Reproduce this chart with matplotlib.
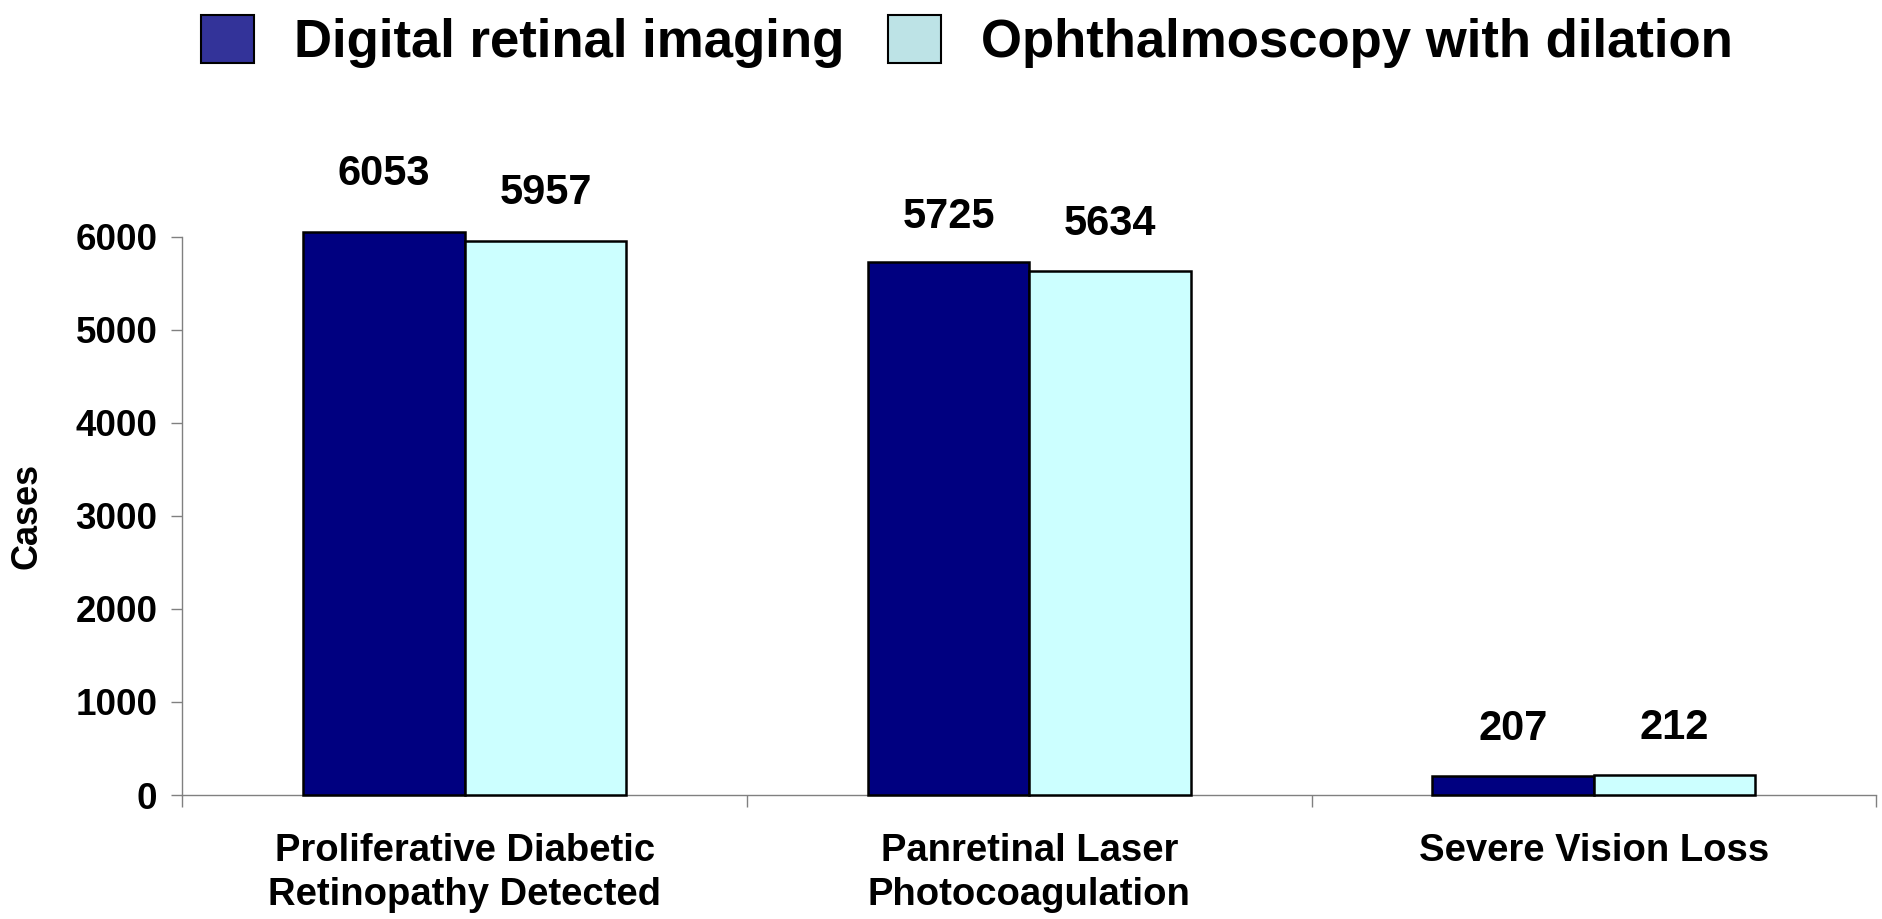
import matplotlib
matplotlib.use("Agg")
from matplotlib import pyplot as plt
from matplotlib.patches import Patch
import numpy as np

plt.rcParams['font.family'] = ['Liberation Sans', 'DejaVu Sans']
plt.rcParams['font.weight'] = 'bold'

# data
categories = ["Proliferative Diabetic\nRetinopathy Detected",
              "Panretinal Laser\nPhotocoagulation",
              "Severe Vision Loss"]
series_names = ["Digital retinal imaging", "Ophthalmoscopy with dilation"]
digital = [6053, 5725, 207]
ophthalmoscopy = [5957, 5634, 212]
y_ticks = [0, 1000, 2000, 3000, 4000, 5000, 6000]

bar_colors = ["#000080", "#CCFFFF"]
legend_colors = ["#333399", "#BDE3E6"]
label_offsets = [[58, 45, 47], [48, 47, 47]]  # px above bar tops

fig = plt.figure(figsize=(18.83, 9.19), dpi=100)
ax = fig.add_axes([0.0969, 0.1349, 0.8994, 0.6076])

x = np.arange(len(categories))
w = 0.286
for k, (vals, col) in enumerate(zip([digital, ophthalmoscopy], bar_colors)):
    xs = x + (k - 0.5) * w
    bars = ax.bar(xs, vals, width=w, color=col, edgecolor='black',
                  linewidth=1.8, clip_on=False, zorder=3)
    for b, v, off in zip(bars, vals, label_offsets[k]):
        ax.annotate(str(v), (b.get_x() + b.get_width() / 2, v),
                    xytext=(0, off * 0.72), textcoords='offset points',
                    ha='center', va='center', fontsize=30, fontweight='bold',
                    annotation_clip=False)

ax.set_xlim(-0.5, len(categories) - 0.5)
ax.set_ylim(0, 6000)
ax.set_yticks(y_ticks)
ax.set_yticklabels([str(t) for t in y_ticks], fontsize=26.5, fontweight='bold')
ax.set_xticks(x)
ax.set_xticklabels(categories, fontsize=27.5, fontweight='bold', linespacing=1.32)
ax.set_xticks(np.arange(len(categories) + 1) - 0.5, minor=True)
ax.tick_params(axis='x', which='major', length=0, pad=27)
ax.tick_params(axis='x', which='minor', length=8.5, color='#808080', width=1)
ax.tick_params(axis='y', length=8, color='#808080', width=1, pad=10)

for s in ['top', 'right']:
    ax.spines[s].set_visible(False)
for s in ['left', 'bottom']:
    ax.spines[s].set_color('#808080')
    ax.spines[s].set_linewidth(1)

ax.set_ylabel("Cases", fontsize=26, fontweight='bold', labelpad=22)

handles = [Patch(facecolor=c, edgecolor='black', linewidth=1.5) for c in legend_colors]
fig.legend(handles, series_names, loc='center', bbox_to_anchor=(0.5135, 0.9546),
           ncol=2, frameon=False, handlelength=1.0, handleheight=1.0,
           handletextpad=0.76, columnspacing=0.83, prop={'weight': 'bold', 'size': 38})

fig.savefig("out.png", dpi=100)
